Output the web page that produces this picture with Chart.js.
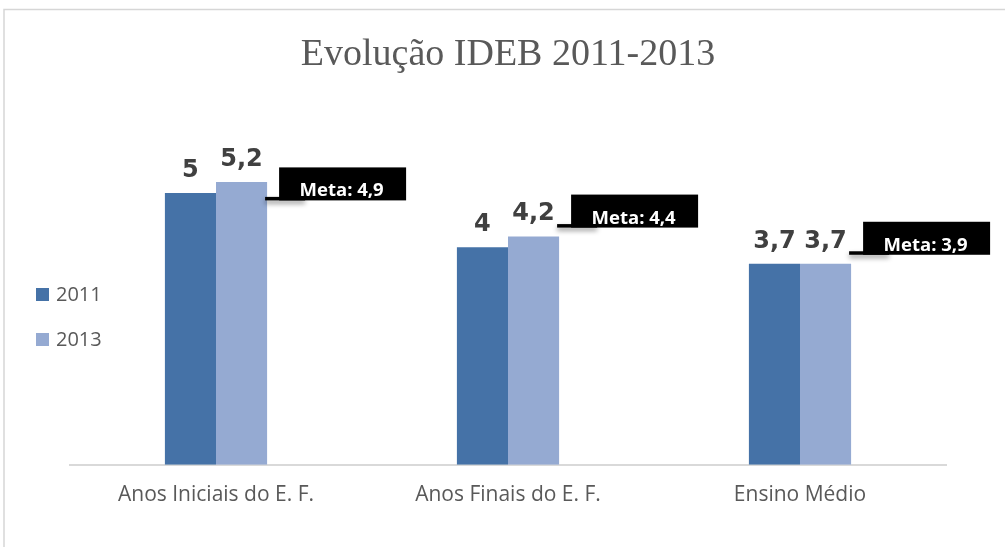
<!DOCTYPE html>
<html>
<head>
<meta charset="utf-8">
<script src="https://cdn.jsdelivr.net/npm/chart.js@4.4.1/dist/chart.umd.min.js"></script>
<style>
html,body{margin:0;padding:0;background:#fff;}
#wrap{width:1005px;height:547px;position:relative;}
</style>
</head>
<body>
<div id="wrap"><canvas id="c" width="1005" height="547"></canvas></div>
<script>
const categories = ['Anos Iniciais do E. F.', 'Anos Finais do E. F.', 'Ensino Médio'];
const seriesLabels = ['2011', '2013'];
const values2011 = [5, 4, 3.7];
const values2013 = [5.2, 4.2, 3.7];
const metas = [4.9, 4.4, 3.9];
const titleText = 'Evolução IDEB 2011-2013';

const fmt = v => String(v).replace('.', ',');

const framePlugin = {
  id: 'frame',
  beforeDraw(chart) {
    const ctx = chart.ctx;
    ctx.save();
    ctx.fillStyle = '#fff';
    ctx.fillRect(0, 0, chart.width, chart.height);
    ctx.strokeStyle = '#d6d6d6';
    ctx.lineWidth = 1.5;
    ctx.beginPath();
    ctx.moveTo(4, chart.height);
    ctx.lineTo(4, 9.5);
    ctx.lineTo(chart.width, 9.5);
    ctx.stroke();
    ctx.restore();
  }
};

const labelsPlugin = {
  id: 'valueLabels',
  afterDatasetsDraw(chart) {
    const ctx = chart.ctx;
    ctx.save();
    ctx.font = 'bold 24px "DejaVu Sans"';
    ctx.fillStyle = '#404040';
    ctx.textAlign = 'center';
    ctx.textBaseline = 'alphabetic';
    chart.data.datasets.forEach((ds, di) => {
      const meta = chart.getDatasetMeta(di);
      meta.data.forEach((bar, i) => {
        ctx.fillText(fmt(ds.data[i]), bar.x, bar.y - 16);
      });
    });
    ctx.restore();
  }
};

const metaPlugin = {
  id: 'metaCallouts',
  afterDatasetsDraw(chart) {
    const ctx = chart.ctx;
    const yScale = chart.scales.y;
    const m = chart.getDatasetMeta(1);
    metas.forEach((v, i) => {
      const bar = m.data[i];
      const right = bar.x + bar.width / 2;
      const yb = yScale.getPixelForValue(v) + 2;
      const bx = right + 12, bw = 127, bh = 33;
      ctx.save();
      ctx.shadowColor = 'rgba(0,0,0,0.45)';
      ctx.shadowBlur = 5;
      ctx.shadowOffsetY = 3;
      ctx.fillStyle = '#000';
      ctx.fillRect(right - 2, yb - 3.5, 40, 3.5);
      ctx.restore();
      ctx.save();
      ctx.fillStyle = '#000';
      ctx.fillRect(bx, yb - bh, bw, bh);
      ctx.fillStyle = '#fff';
      ctx.font = 'bold 18.5px "Open Sans"';
      ctx.textAlign = 'center';
      ctx.textBaseline = 'alphabetic';
      ctx.fillText('Meta: ' + fmt(v), bx + bw / 2 - 1, yb - 4);
      ctx.restore();
    });
  }
};

const legendPlugin = {
  id: 'sideLegend',
  afterDraw(chart) {
    const ctx = chart.ctx;
    ctx.save();
    ctx.font = '20px "Open Sans"';
    ctx.textBaseline = 'middle';
    ctx.textAlign = 'left';
    chart.data.datasets.forEach((ds, i) => {
      const y0 = 288 + i * 45;
      ctx.fillStyle = ds.backgroundColor;
      ctx.fillRect(36, y0, 13, 13);
      ctx.fillStyle = '#595959';
      ctx.fillText(ds.label, 56, y0 + 7);
    });
    ctx.restore();
  }
};

new Chart(document.getElementById('c'), {
  type: 'bar',
  data: {
    labels: categories,
    datasets: [
      { label: seriesLabels[0], data: values2011, backgroundColor: '#4572A7' },
      { label: seriesLabels[1], data: values2013, backgroundColor: '#95AAD2' }
    ]
  },
  options: {
    responsive: false,
    animation: false,
    layout: { padding: { left: 70, right: 59, top: 0, bottom: 21 } },
    datasets: { bar: { categoryPercentage: 0.35, barPercentage: 1.0, borderWidth: 0 } },
    plugins: {
      legend: { display: false },
      tooltip: { enabled: false },
      title: {
        display: true,
        text: titleText,
        color: '#595959',
        font: { family: '"Liberation Serif"', size: 38, weight: 'normal', lineHeight: 1.2 },
        padding: { top: 32, bottom: 61 }
      }
    },
    scales: {
      x: {
        grid: { display: false, drawTicks: false },
        border: { display: true, color: '#d9d9d9', width: 2 },
        ticks: { color: '#595959', font: { family: '"Open Sans"', size: 21 }, padding: 18, maxRotation: 0 }
      },
      y: { display: false, min: 0, max: 6 }
    }
  },
  plugins: [framePlugin, labelsPlugin, metaPlugin, legendPlugin]
});
</script>
</body>
</html>
